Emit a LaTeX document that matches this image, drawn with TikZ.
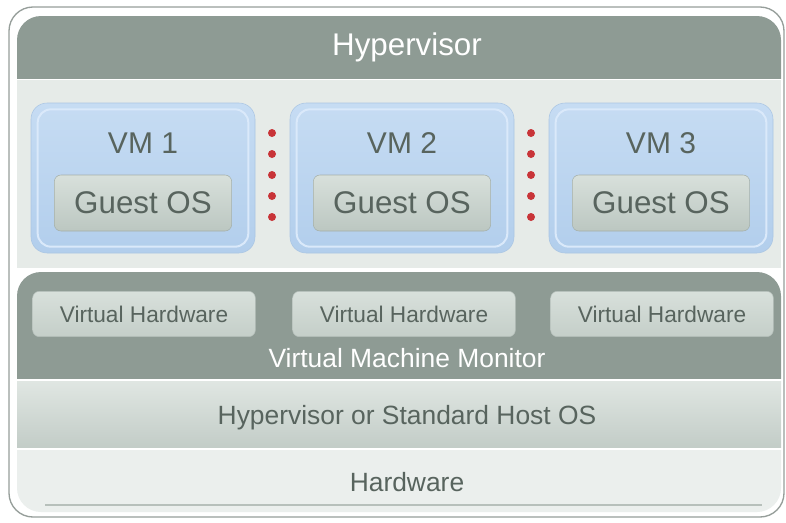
\documentclass[tikz,border=0pt]{standalone}
\usepackage{fontspec}
\setmainfont{Liberation Sans}
\definecolor{bandgray}{RGB}{142,155,148}
\definecolor{textgray}{RGB}{88,100,94}
\definecolor{framegray}{RGB}{150,158,154}
\definecolor{lightarea}{RGB}{230,235,232}
\definecolor{vmblue}{RGB}{178,206,236}
\definecolor{vmtop}{RGB}{198,220,243}
\definecolor{vmedge}{RGB}{218,233,250}
\definecolor{boxtop}{RGB}{216,224,219}
\definecolor{boxbot}{RGB}{188,199,193}
\definecolor{boxedge}{RGB}{165,176,170}
\definecolor{dotred}{RGB}{200,52,56}
\begin{document}
\begin{tikzpicture}[x=0.75pt,y=-0.75pt,
  vmbox/.style={rounded corners=12pt,minimum width=168pt,minimum height=112.5pt,
    top color=vmtop,bottom color=vmblue,draw=vmblue!80!black!20!vmblue},
  vminner/.style={rounded corners=10pt,minimum width=158pt,minimum height=103pt,
    draw=vmedge,line width=1.5pt},
  guestbox/.style={rounded corners=5pt,minimum width=133pt,minimum height=42pt,
    top color=boxtop,bottom color=boxbot,draw=boxedge,text=textgray,
    font=\fontsize{23.5}{26}\selectfont},
  hwbox/.style={rounded corners=5pt,minimum width=167pt,minimum height=34pt,
    top color=boxtop,bottom color=boxbot!70!boxtop,draw=boxedge!70!boxtop,text=textgray,
    font=\fontsize{17}{20}\selectfont},
  lbl/.style={text=textgray,font=\fontsize{19.8}{22}\selectfont},
  whitelbl/.style={text=white,font=\fontsize{19.8}{22}\selectfont}]
\useasboundingbox (0,0) rectangle (786,522);
% outer frame
\draw[framegray,fill=white,line width=1pt,rounded corners=18pt] (9,7) rectangle (784,517);

% hypervisor on top
\begin{scope}
  \clip (17,16) rectangle (781,78);
  \fill[bandgray,rounded corners=18pt] (17,16) rectangle (781,120);
\end{scope}
\node[text=white,font=\fontsize{23.5}{26}\selectfont] (hyp) at (407,47) {Hypervisor};

% the virtual machines
\fill[lightarea] (17,80) rectangle (781,268);
\foreach \i/\x in {1/143,2/402,3/661} {
  \node[vmbox] (vm\i) at (\x,178) {};
  \node[vminner] (vmin\i) at (\x,178) {};
  \node[text=textgray,font=\fontsize{22.5}{25}\selectfont] (vmlbl\i) at (\x,143) {VM \i};
  \node[guestbox] (guest\i) at (\x,203) {Guest OS};
}
\foreach \x in {272,531}
  \foreach \y in {133,154,175,196,217}
    \fill[dotred] (\x,\y) circle[radius=3pt];

% monitor with virtual hardware
\begin{scope}
  \clip (17,272) rectangle (781,378);
  \fill[bandgray,rounded corners=18pt] (17,272) rectangle (781,420);
\end{scope}
\foreach \i/\x in {1/144,2/404,3/662}
  \node[hwbox] (vhw\i) at (\x,314) {Virtual Hardware};
\node[whitelbl] (vmm) at (407,358) {Virtual Machine Monitor};

% host layer
\shade[top color=boxtop!80!white,bottom color=boxbot!90!white] (17,381) rectangle (781,447);
\node[lbl] (host) at (407,418) {Hypervisor or Standard Host OS};

% hardware
\begin{scope}
  \clip (17,450) rectangle (781,512);
  \fill[lightarea!80!white,rounded corners=18pt] (17,400) rectangle (781,512);
\end{scope}
\draw[boxedge!80!white,line width=1.2pt] (45,505) -- (762,505);
\node[lbl] (hw) at (407,482) {Hardware};
\end{tikzpicture}
\end{document}
